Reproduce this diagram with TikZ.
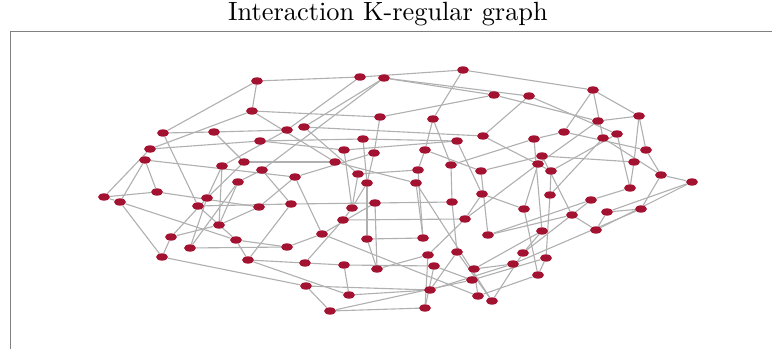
\documentclass[tikz,border=0pt]{standalone}
\usepackage{tikz}
\usetikzlibrary{positioning,shapes.geometric,backgrounds}
\definecolor{vxred}{RGB}{163,18,48}
\definecolor{edgray}{RGB}{176,176,176}
\font\ttlfont="[lmroman10-regular.otf]" at 22.5pt
\tikzset{
vx/.style={ellipse,fill=vxred,draw=none,inner sep=0pt,minimum width=0.36cm,minimum height=0.22cm},
ed/.style={draw=edgray,line width=0.95pt},
frm/.style={draw=black!50,line width=0.7pt},
ttl/.style={font=\ttlfont,inner sep=0pt,anchor=base},
}

\begin{document}
\begin{tikzpicture}[x=0.03cm,y=-0.03cm]
	\useasboundingbox (0,0) rectangle (772,349);
	\node[ttl] (title) at (388,21) {Interaction K-regular graph};
	\draw[frm] (10,349) -- (10,31) -- (772,31);

	% vertices, placed in pixel units
	\foreach \i/\x/\y in {1/257/81, 2/360/77, 3/384/78, 4/463/70, 5/494/95,
		6/529/96, 7/593/90, 8/252/111, 9/639/116, 10/380/117, 11/433/119,
		12/163/133, 13/214/132, 14/287/130, 15/304/127, 16/260/141,
		17/150/149, 18/145/160, 19/244/162, 20/222/166, 21/262/170,
		22/295/177, 23/238/182, 24/157/192, 25/104/197, 26/120/202,
		27/207/198, 28/198/206, 29/259/207, 30/291/204, 31/219/225,
		32/171/237, 33/236/240, 34/190/248, 35/287/247, 36/162/257,
		37/248/260, 38/305/263, 39/306/286, 40/363/139, 41/457/141,
		42/483/136, 43/344/150, 44/374/153, 45/425/150, 46/335/162,
		47/418/170, 48/451/165, 49/481/171, 50/358/174, 51/367/183,
		52/416/183, 53/482/194, 54/598/121, 55/564/132, 56/534/139,
		57/603/138, 58/617/134, 59/646/150, 60/542/156, 61/538/164,
		62/551/171, 63/634/162, 64/661/175, 65/692/182, 66/630/188,
		67/550/195, 68/591/200, 69/524/209, 70/572/215, 71/607/212,
		72/641/209, 73/542/231, 74/596/230, 75/523/253, 76/546/258,
		77/513/264, 78/538/275, 79/492/301, 80/488/235, 81/352/208,
		82/375/203, 83/452/202, 84/343/220, 85/465/219, 86/322/234,
		87/367/239, 88/423/238, 89/344/265, 90/377/269, 91/428/255,
		92/457/252, 93/434/266, 94/474/269, 95/472/280, 96/349/295,
		97/430/290, 98/478/296, 99/330/311, 100/425/308}
		\node[vx] (n\i) at (\x,\y) {};

	% edges
	\begin{scope}[on background layer]
	\foreach \a/\b in {1/2, 1/8, 1/12, 2/4, 2/14, 3/5, 3/6, 3/21, 4/7, 4/11,
		5/10, 5/54, 6/42, 6/58, 7/9, 7/55, 7/57, 8/10, 8/17, 8/46,
		9/54, 9/59, 9/63, 10/44, 11/45, 11/48, 12/13, 12/28, 13/14, 13/19,
		14/20, 15/42, 15/50, 16/17, 16/43, 16/40, 17/25, 18/22, 18/24, 18/26,
		19/27, 19/46, 20/27, 21/23, 21/30, 22/29, 22/44, 23/31, 23/34,
		24/25, 24/29, 26/36, 26/33, 27/32, 27/34, 28/33, 28/30, 29/31,
		30/37, 31/32, 32/36, 33/37, 33/35, 34/35, 35/86, 36/39, 37/38,
		37/96, 38/84, 38/89, 39/97, 39/99, 40/41, 40/51, 41/43, 41/53,
		42/62, 43/81, 44/51, 45/47, 45/49, 46/52, 47/50, 47/88, 48/83,
		48/56, 49/80, 49/60, 50/81, 51/87, 51/81, 52/88, 52/79, 53/85,
		53/69, 54/61, 55/56, 55/59, 56/73, 57/67, 57/64, 58/62, 58/66,
		59/64, 60/63, 60/70, 61/69, 61/85, 62/67, 63/66, 64/65, 64/72,
		65/71, 65/74, 66/68, 67/76, 68/80, 68/75, 69/78, 70/74, 70/80,
		71/72, 71/74, 72/77, 73/75, 73/94, 75/79, 76/78, 76/95, 77/94,
		77/97, 78/98, 79/92, 81/84, 82/83, 82/86, 82/90, 83/92, 84/85,
		85/91, 86/98, 87/90, 87/88, 89/96, 89/93, 90/91, 91/100, 92/97,
		93/95, 93/100, 94/98, 95/99, 96/97, 99/100, 15/3, 20/31, 25/26,
		30/82, 22/86}
		\draw[ed] (n\a) -- (n\b);
	\end{scope}
\end{tikzpicture}
\end{document}
